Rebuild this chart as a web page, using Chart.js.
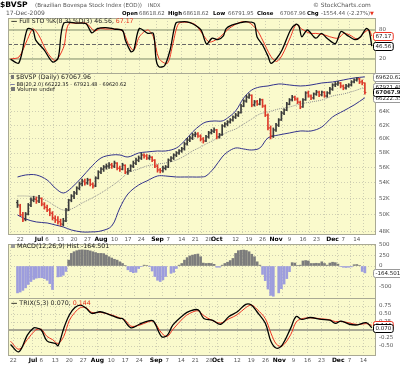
<!DOCTYPE html>
<html>
<head>
<meta charset="utf-8">
<title>$BVSP</title>
<script src="https://cdn.jsdelivr.net/npm/chart.js@4.4.1/dist/chart.umd.min.js"></script>
<style>
  html, body { margin: 0; padding: 0; background: #fff; }
  #wrap { position: relative; width: 400px; height: 365px; overflow: hidden; font-family: 'DejaVu Sans', Verdana, sans-serif; color: #333; }
  #wrap canvas { position: absolute; left: 0; top: 0; }
  .t { position: absolute; white-space: nowrap; line-height: 1; }
  .b { font-weight: bold; color: #000; }
  .g { color: #555; }
  .red { color: #e8321e; }
  .sq { display: inline-block; width: 4px; height: 4px; background: #777; margin-right: 2px; }
</style>
</head>
<body>
<div id="wrap">
  <canvas id="sto" width="400" height="365"></canvas>
  <canvas id="price" width="400" height="365"></canvas>
  <canvas id="macd" width="400" height="365"></canvas>
  <canvas id="trix" width="400" height="365"></canvas>

  <!-- header -->
  <div class="t b" style="left:0;top:1px;font-size:7.6px">$BVSP</div>
  <div class="t g" style="left:35px;top:2.7px;font-size:5.6px">(Brazilian Bovespa Stock Index (EOD))</div>
  <div class="t g" style="left:148px;top:3px;font-size:5px">INDX</div>
  <div class="t g" style="left:313px;top:2.5px;font-size:5.9px">© StockCharts.com</div>
  <div class="t g" style="left:6px;top:10.3px;font-size:6px">17-Dec-2009</div>
  <div class="t b" style="left:122px;top:10.6px;font-size:5.4px">Open</div>
  <div class="t g" style="left:139px;top:10.6px;font-size:5.4px">68618.62</div>
  <div class="t b" style="left:168px;top:10.6px;font-size:5.4px">High</div>
  <div class="t g" style="left:183px;top:10.6px;font-size:5.4px">68618.62</div>
  <div class="t b" style="left:213px;top:10.6px;font-size:5.4px">Low</div>
  <div class="t g" style="left:228px;top:10.6px;font-size:5.4px">66791.95</div>
  <div class="t b" style="left:257px;top:10.6px;font-size:5.4px">Close</div>
  <div class="t g" style="left:280px;top:10.6px;font-size:5.4px">67067.96</div>
  <div class="t b" style="left:307px;top:10.6px;font-size:5.4px">Chg</div>
  <div class="t g" style="left:321px;top:10.6px;font-size:5.4px">-1554.44 (-2.27%)</div>
  <div class="t red" style="left:370px;top:10.8px;font-size:5px">▼</div>

  <!-- panel labels -->
  <div class="t" style="left:11px;top:17.9px;font-size:6.2px;color:#222"><b style="color:#000">—</b> Full STO %K(8,3) %D(3) 46.56, <span class="red">67.17</span></div>
  <div class="t" style="left:11px;top:73.9px;font-size:6.3px;color:#222"><span class="sq" style="width:3px;height:4px"></span>$BVSP (Daily) 67067.96</div>
  <div class="t" style="left:10px;top:81.5px;font-size:5px;color:#222"><b style="color:#33338c">—</b> BB(20,2.0) 66222.35 - 67921.48 - 69620.62</div>
  <div class="t" style="left:11px;top:87.2px;font-size:5.5px;color:#222"><span class="sq"></span>Volume undef</div>
  <div class="t" style="left:11px;top:242.9px;font-size:6.3px;color:#222"><span class="sq" style="background:#999"></span>MACD(12,26,9) Hist -164.501</div>
  <div class="t" style="left:11px;top:299.8px;font-size:6.3px;color:#222"><b style="color:#000">—</b> TRIX(5,3) 0.070, <span class="red">0.144</span></div>
</div>

<script>
// x axis: trading day index (0 = 19-Jun-2009 ... 129 = 17-Dec-2009)
const tickDays   = [1, 8, 11, 16, 21, 26, 31, 36, 41, 46, 52, 56, 61, 66, 71, 74, 81, 86, 91, 96, 101, 106, 111, 117, 121, 126];
const tickLabels = ['22', 'Jul', '6', '13', '20', '27', 'Aug', '10', '17', '24', 'Sep', '7', '14', '21', '28', 'Oct', '12', '19', '26', 'Nov', '9', '16', '23', 'Dec', '7', '14'];

// daily OHLC
const open = [51500,51100,50000,49500,50100,51200,51800,51900,51700,52000,
  51300,50900,50600,50200,49600,49400,49200,48900,49300,50600,
  51800,52300,52700,53300,53900,54200,54000,54400,53800,53600,
  54600,55400,55800,56100,56200,56400,56200,56600,55900,55800,
  56300,55400,55600,56200,56600,57000,57300,57700,57600,57300,
  57400,57000,56200,55700,55600,55900,56100,57000,57300,57700,
  58000,58300,58600,59300,59800,60100,60600,60700,60400,60000,
  59700,60300,60900,61100,61300,60300,60600,61900,62200,62500,
  62800,63200,63500,63900,64900,65700,66300,66600,65100,65600,
  65200,65900,64900,63500,61600,60400,61300,62000,62800,63800,
  64300,65200,65900,66300,66000,65500,64800,65900,67000,66500,
  66200,66800,67100,66700,67100,66500,67000,67600,68300,68400,
  68600,68100,67800,68100,68300,68800,69100,69300,68800,68618.62];
const high = [51800,51300,50300,50300,51400,52100,52300,52200,52400,52100,
  51500,51200,50800,50400,49900,49800,49500,49600,50800,51900,
  52500,52900,53500,54100,54500,54500,54600,54500,54000,54800,
  55600,56000,56300,56500,56700,56600,56900,56700,56200,56600,
  56400,55900,56400,56900,57300,57600,58000,57900,57800,57700,
  57500,57100,56400,55900,56200,56300,57200,57500,57900,58200,
  58500,58800,59500,60100,60400,60800,61000,60900,60600,60200,
  60500,61100,61400,61600,61400,60800,62100,62400,62700,63000,
  63400,63800,64100,65200,65900,66600,66900,66700,65800,65800,
  66100,66000,65100,63700,61900,61600,62300,63000,64100,64500,
  65500,66100,66600,66500,66200,65700,66100,67200,67300,66700,
  67000,67400,67300,67300,67200,67200,67900,68500,68700,68900,
  68700,68300,68400,68500,69000,69300,69500,69400,69100,68618.62];
const low = [50900,49900,49200,49300,50000,51000,51600,51400,51500,51100,
  50700,50400,49900,49400,49100,48900,48700,48700,49200,50500,
  51600,52000,52500,53100,53600,53700,53800,53600,53300,53500,
  54500,55200,55500,55800,55900,55900,56000,55700,55500,55700,
  55200,55100,55500,56000,56400,56800,57100,57300,57100,57100,
  56800,56000,55400,55300,55400,55700,56000,56800,57100,57500,
  57800,58100,58400,59100,59600,59900,60300,60200,59700,59400,
  59600,60100,60700,60900,60000,60100,60500,61700,61900,62300,
  62600,63000,63300,63800,64800,65500,66100,64800,64900,65000,
  65100,64700,63300,61300,60000,60200,61100,61800,62700,63600,
  64200,65100,65700,65800,65300,64500,64700,65800,66300,65900,
  66000,66600,66400,66500,66300,66300,66800,67400,68000,68200,
  67800,67500,67600,67900,68100,68600,68900,68500,68300,66791.95];
const close = [51210,50000,49400,50100,51210,51820,51950,51700,52070,51330,
  50960,50600,50240,49640,49400,49170,48930,49280,50600,51820,
  52320,52700,53340,53850,54240,53980,54370,53850,53600,54630,
  55420,55820,56090,56230,56360,56230,56630,55960,55820,56360,
  55420,55560,56230,56630,57040,57320,57730,57590,57320,57450,
  57040,56230,55690,55560,55960,56090,57040,57320,57730,58010,
  58290,58570,59270,59850,60130,60570,60710,60420,59990,59700,
  60280,60860,61150,61300,60280,60570,61890,62180,62480,62780,
  63240,63540,63850,64930,65710,66340,66660,65080,65550,65240,
  65870,64930,63540,61590,60420,61300,62040,62780,63850,64310,
  65240,65870,66340,66030,65550,64770,65870,66980,66500,66190,
  66820,67140,66660,67140,66500,66980,67630,68280,68450,68610,
  68120,67790,68120,68280,68770,69100,69270,68770,68622,67067.96];

// Bollinger bands, read at these days
const bandDays = [0,3,7,11,14,17,20,24,27,31,35,38,41,45,48,52,55,59,62,65,68,70,73,76,78,81,84,87,90,93,97,101,105,109,113,117,121,125,129];
const bbUpper = [54764,55027,55027,54371,53339,52701,53339,54764,55958,57315,
  57729,57729,57453,58006,58145,58285,58285,58706,59702,61002,
  62035,62483,62634,62634,63086,64154,66186,67467,67954,68117,
  68445,68281,68117,68281,68609,68774,69105,69437,69620.62];
const bbMiddle = [52323,52323,52198,51700,51085,50597,50719,51453,51948,52701,
  53596,54371,55291,55824,56226,56496,56632,57041,57590,58285,
  58847,59274,59845,60566,61002,61443,62184,62935,63693,64000,
  64462,64772,65240,65554,65869,66504,66823,67307,67921.48];
const bbLower = [49996,49519,49165,49047,48813,48580,48232,48001,48001,48116,
  48696,50840,52575,53724,54241,54895,54895,54764,54764,54764,
  54764,54895,55958,57453,58145,58706,58565,58425,58706,60132,
  60566,60857,61149,61149,61740,63237,64154,65084,66222.35];
const priceTicks = [48000, 50000, 52000, 54000, 56000, 58000, 60000, 62000, 64000];

// Full stochastics
const stoKDays = [0,3,6,8,9,12,15,17,19,24,27,29,31,34,37,40,41,43,44,46,49,51,52,53,55,57,59,61,63,65,68,70,72,74,76,77,79,82,84,87,88,90,92,93,95,97,100,102,103,104,106,109,111,113,116,118,120,123,125,127,128,129];
const stoK = [19,12,82,80,59,39,14,22,94,94,93,74,83,85,82,79,59,35,38,83,73,73,18,4,6,39,94,97,97,93,80,51,63,60,68,83,90,95,97,94,66,49,25,11,21,39,80,92,88,66,80,63,73,63,52,77,70,60,66,83,79,46.56];
const stoDDays = [0,3,6,8,10,13,16,19,20,21,23,27,30,32,34,37,40,42,44,46,49,51,53,56,58,60,63,66,69,71,74,76,78,82,85,88,90,93,95,97,100,102,104,107,109,112,114,117,119,121,124,126,128,129];
const stoD = [20,24,60,82,70,35,17,45,80,94,94,94,78,83,82,82,78,52,38,66,80,66,21,11,52,93,96,91,68,55,62,72,83,96,96,80,59,25,15,28,66,91,82,73,73,70,66,63,73,70,61,73,80,67.17];
const stoLevels = [20, 50, 80];

// MACD histogram, one per day (null = no bar)
const macdHist = [-640,-620,-580,-520,-440,-370,-320,-290,-280,-280,
  -300,-340,-420,-560,null,-260,-250,-220,-130,140,
  300,340,365,380,385,380,375,360,340,320,
  300,300,295,260,220,190,160,140,100,60,
  10,-90,-135,-160,-150,-60,-10,20,10,-5,
  -120,-250,-340,-370,-330,-250,null,-175,-150,-60,
  20,60,140,200,240,260,275,285,220,70,
  60,65,60,40,-30,-30,20,60,90,130,
  180,300,365,375,380,370,340,280,220,100,
  20,-200,-350,-550,-700,-720,null,-640,-540,-430,
  -300,-135,80,70,10,20,120,130,120,60,
  60,65,60,100,60,20,70,90,80,45,
  -10,-30,-35,-30,-20,30,35,10,-130,-164.501];
const macdTicks = [-500, -250, 0, 250, 500];

// TRIX(5,3) and signal
const trixDays = [0,3,6,8,9,11,13,16,17,19,21,23,25,27,29,32,35,39,40,43,46,49,51,54,56,58,62,64,67,69,72,75,78,81,84,86,88,91,93,95,97,100,102,104,107,111,114,116,118,121,124,127,129];
const trix = [-0.45,-0.68,-0.16,0.05,0.07,0,-0.34,-0.42,-0.49,0.05,0.47,0.70,0.78,0.68,0.52,0.57,0.49,0.36,0.36,0.07,0.18,0.28,0.28,-0.21,-0.16,0.16,0.49,0.59,0.63,0.36,0.31,0.18,0.42,0.57,0.80,0.78,0.57,0.21,-0.36,-0.57,-0.47,0.05,0.42,0.33,0.39,0.33,0.31,0.21,0.28,0.18,0.16,0.23,0.070];
const sigDays = [0,3,6,9,11,13,15,17,19,21,23,25,27,29,32,35,39,41,43,46,49,51,54,56,58,62,64,67,69,72,75,78,81,84,86,88,91,93,95,97,100,102,104,107,111,114,116,118,121,124,127,129];
const trixSignal = [-0.35,-0.6,-0.3,0.0,0.02,-0.2,-0.3,-0.42,-0.2,0.3,0.55,0.7,0.7,0.55,0.55,0.5,0.38,0.3,0.12,0.15,0.25,0.27,-0.1,-0.2,0.02,0.4,0.52,0.6,0.45,0.3,0.22,0.35,0.48,0.7,0.78,0.65,0.35,-0.1,-0.45,-0.5,-0.15,0.25,0.35,0.38,0.35,0.32,0.26,0.27,0.22,0.17,0.2,0.144];
const trixTicks = [-0.5, -0.25, 0, 0.25, 0.5, 0.75];

// --- look ---
const X_MIN = -0.9, X_MAX = 130.5;
const FONT = 'DejaVu Sans';
const PLOT_BG = '#fafacc';
const GRID = '#cfcfb2';
const UP = '#3a3a3a', DOWN = '#dd3a2a', RED = '#ee3322', NAVY = '#33338c';

const last = a => a[a.length - 1];
const pts = (xs, ys) => xs.map((x, k) => ({ x, y: ys[k] }));
const isMonth = i => isNaN(Number(tickLabels[i]));

const panelPlugin = {
  id: 'panel',
  beforeDraw(chart) {
    const a = chart.chartArea, c = chart.ctx;
    c.save();
    c.fillStyle = PLOT_BG;
    c.fillRect(a.left, a.top, a.right - a.left, a.bottom - a.top);
    c.restore();
  },
  afterDraw(chart) {
    const a = chart.chartArea, c = chart.ctx;
    c.save();
    c.strokeStyle = '#a9a994';
    c.lineWidth = 1;
    c.strokeRect(Math.round(a.left) + 0.5, Math.round(a.top) + 0.5, Math.round(a.right - a.left) - 1, Math.round(a.bottom - a.top));
    c.restore();
  }
};

// boxed last-value tags on the right edge
function tagPlugin(items) {
  return {
    id: 'tags',
    afterDraw(chart) {
      const c = chart.ctx, ys = chart.scales.y, x0 = chart.chartArea.right - 3;
      items.forEach(t => {
        const py = Math.round(ys.getPixelForValue(t.value)) + 0.5;
        c.save();
        c.font = (t.bold ? 'bold ' : '') + '5.5px "' + FONT + '"';
        const w = c.measureText(t.text).width + 4;
        c.beginPath();
        c.roundRect(x0 + 0.5, py - 4, w, 8, 2);
        c.fillStyle = '#fff';
        c.fill();
        c.strokeStyle = t.color;
        c.lineWidth = 1;
        c.stroke();
        c.fillStyle = '#222';
        c.textBaseline = 'middle';
        c.fillText(t.text, x0 + 2.5, py + 0.5);
        c.restore();
      });
    }
  };
}

function xScale(showLabels) {
  return {
    type: 'linear', min: X_MIN, max: X_MAX,
    afterBuildTicks: s => { s.ticks = tickDays.map(v => ({ value: v })); },
    afterFit: s => { s.height = showLabels ? 10 : 0; },
    grid: { color: GRID, drawTicks: false },
    border: { display: false, dash: [1, 2] },
    ticks: {
      display: showLabels, autoSkip: false, maxRotation: 0, padding: 2,
      callback: (v, i) => tickLabels[i],
      font: c => ({ family: FONT, size: isMonth(c.index) ? 6 : 5.5, weight: isMonth(c.index) ? 'bold' : 'normal' }),
      color: c => isMonth(c.index) ? '#000' : '#555'
    }
  };
}

function yScale(opts, ticks, fmt, showGrid) {
  return Object.assign({
    position: 'right',
    afterFit: s => { s.width = 24; },
    afterBuildTicks: s => { s.ticks = ticks.map(v => ({ value: v })); },
    grid: { display: showGrid, color: GRID, drawTicks: false },
    border: { display: false, dash: [1, 2] },
    ticks: { font: { family: FONT, size: 5.5 }, color: '#555', padding: 3, callback: fmt }
  }, opts);
}

function makeChart(id, top, bottom, showX, y, datasets, tags) {
  return new Chart(document.getElementById(id), {
    type: 'line',
    data: { datasets },
    options: {
      animation: false, responsive: false, events: [],
      layout: { padding: { left: 8, right: 0, top, bottom }, autoPadding: false },
      plugins: { legend: { display: false }, tooltip: { enabled: false } },
      scales: { x: xScale(showX), y }
    },
    plugins: [panelPlugin, tagPlugin(tags)]
  });
}

const line = (data, color, width, extra) => Object.assign({
  type: 'line', data, borderColor: color, borderWidth: width,
  pointRadius: 0, tension: 0.35, fill: false
}, extra);

const levelLine = (v, color, width, dash) => line([{ x: X_MIN, y: v }, { x: X_MAX, y: v }], color, width, { tension: 0, borderDash: dash || [], order: 5 });

// --- Full STO panel ---
makeChart('sto', 18, 292, false,
  yScale({ min: -9, max: 104.8 }, [20, 80], v => String(v), false),
  [
    levelLine(stoLevels[0], '#7d8b69', 1),
    levelLine(stoLevels[2], '#7d8b69', 1),
    levelLine(stoLevels[1], '#666', 1, [4, 2]),
    line(pts(stoDDays, stoD), RED, 1, { tension: 0.3, order: 2 }),
    line(pts(stoKDays, stoK), '#000', 1.3, { tension: 0.3, order: 1 })
  ],
  [{ value: last(stoD), text: '67.17', color: RED }, { value: last(stoK), text: '46.56', color: '#000' }]
);

// --- Price panel (log scale) ---
const barColor = ctx => {
  const i = ctx.dataIndex;
  return i > 0 && close[i] < close[i - 1] ? DOWN : UP;
};
const days = close.map((_, i) => i);

makeChart('price', 73, 121, true,
  yScale({ type: 'logarithmic', min: 47767, max: 70270 }, priceTicks, v => (v / 1000) + 'K', true),
  [
    line(pts(bandDays, bbUpper), NAVY, 1, { order: 4 }),
    line(pts(bandDays, bbMiddle), '#8f8f8f', 1, { borderDash: [1, 1], order: 4 }),
    line(pts(bandDays, bbLower), NAVY, 1, { order: 4 }),
    {
      type: 'bar', data: days.map(i => ({ x: i, y: [low[i], high[i]] })),
      backgroundColor: barColor, barThickness: 1, order: 2
    },
    {
      type: 'line', showLine: false, data: days.map(i => ({ x: i - 0.3, y: open[i] })),
      pointStyle: 'line', pointRadius: 0.7, pointBorderWidth: 1, pointBorderColor: barColor, order: 1
    },
    {
      type: 'line', showLine: false, data: days.map(i => ({ x: i + 0.3, y: close[i] })),
      pointStyle: 'line', pointRadius: 0.7, pointBorderWidth: 1, pointBorderColor: barColor, order: 1
    }
  ],
  [
    { value: last(bbUpper), text: '69620.62', color: '#999' },
    { value: last(bbMiddle), text: '67921.48', color: '#999' },
    { value: last(bbLower), text: '66222.35', color: '#999' },
    { value: last(close), text: '67067.96', color: '#000', bold: true }
  ]
);

// --- MACD histogram panel ---
makeChart('macd', 244, 67, false,
  yScale({ min: -762, max: 524 }, macdTicks, v => String(v), true),
  [{
    type: 'bar', data: macdHist.map((v, i) => ({ x: i, y: v })),
    backgroundColor: ctx => (macdHist[ctx.dataIndex] >= 0 ? '#7c7c7c' : '#9d9ddd'),
    barThickness: 2
  }],
  [{ value: last(macdHist), text: '-164.501', color: '#999' }]
);

// --- TRIX panel ---
makeChart('trix', 298, 0, true,
  yScale({ min: -0.781, max: 1.0 }, trixTicks, v => v.toFixed(2), true),
  [
    levelLine(0, '#a8a894', 2),
    line(pts(sigDays, trixSignal), RED, 1, { tension: 0.35, order: 2 }),
    line(pts(trixDays, trix), '#000', 1.3, { tension: 0.35, order: 1 })
  ],
  [{ value: last(trixSignal), text: '0.144', color: RED }, { value: last(trix), text: '0.070', color: '#000' }]
);
</script>
</body>
</html>
